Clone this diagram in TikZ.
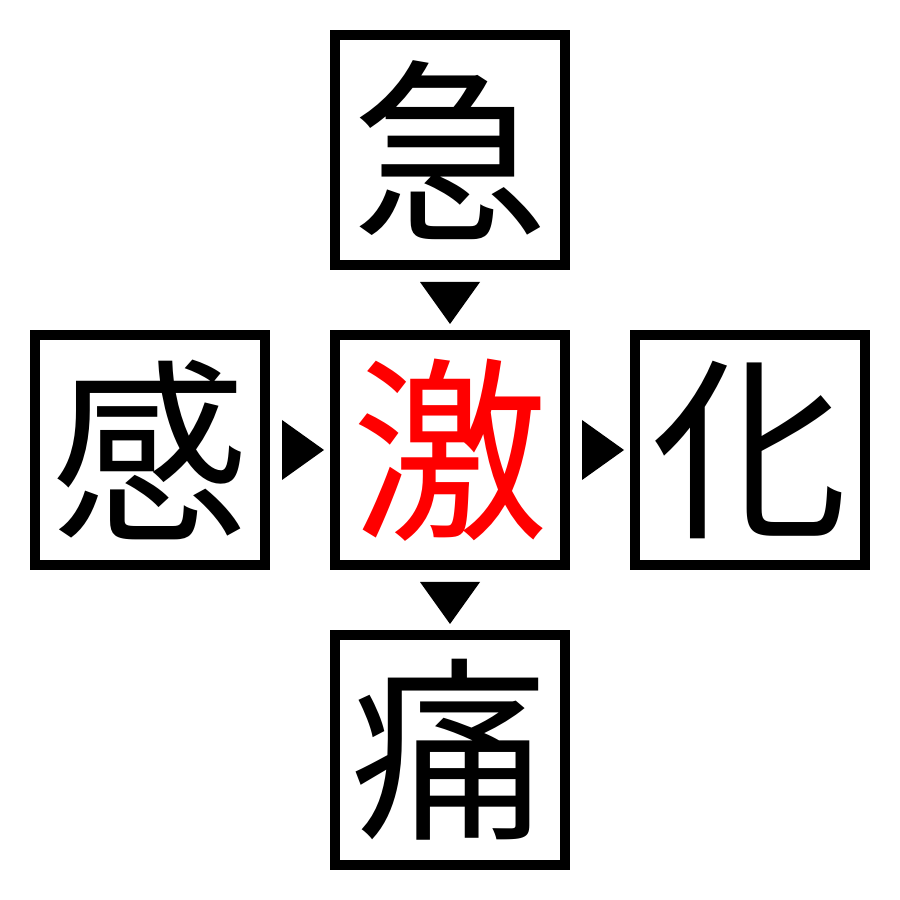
\documentclass[tikz,border=0pt]{standalone}
\usepackage{fontspec}
\newfontfamily\cjk{Noto Sans CJK JP}
\usetikzlibrary{calc,positioning}
\tikzset{
	kbox/.style = {rectangle, draw, line width=1mm, minimum size=2.3cm, inner sep=0, font=\cjk\fontsize{56}{56}\selectfont},
}

\begin{document}
\begin{tikzpicture}
\useasboundingbox (0,0) rectangle (9,9);

\node[kbox, text=red] (geki) at (4.5,4.5) {激};
\node[kbox, above=0.6 of geki] (kyu) {急};
\node[kbox, below=0.6 of geki] (tsu) {痛};
\node[kbox, left=0.6 of geki] (kan) {感};
\node[kbox, right=0.6 of geki] (ka) {化};

\coordinate (m1) at ($(kyu.south)!0.5!(geki.north)$);
\coordinate (m2) at ($(geki.south)!0.5!(tsu.north)$);
\coordinate (m3) at ($(kan.east)!0.5!(geki.west)$);
\coordinate (m4) at ($(geki.east)!0.5!(ka.west)$);

\fill (m1) ++(-0.3,0.18) -- ++(0.6,0) -- ++(-0.3,-0.42) -- cycle;
\fill (m2) ++(-0.3,0.18) -- ++(0.6,0) -- ++(-0.3,-0.42) -- cycle;
\fill (m3) ++(-0.18,0.3) -- ++(0,-0.6) -- ++(0.42,0.3) -- cycle;
\fill (m4) ++(-0.18,0.3) -- ++(0,-0.6) -- ++(0.42,0.3) -- cycle;

\end{tikzpicture}
\end{document}
